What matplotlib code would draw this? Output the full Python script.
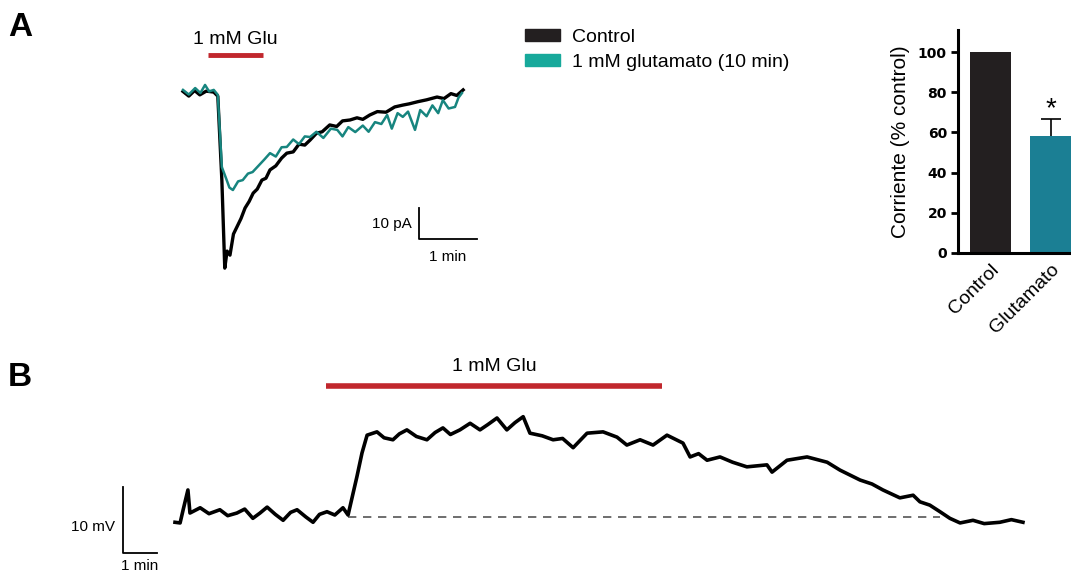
import numpy as np
import matplotlib
matplotlib.use("Agg")
import matplotlib.pyplot as plt
from matplotlib.patches import Patch

plt.rcParams["font.family"] = ["Liberation Sans", "DejaVu Sans"]

# ---- data ----
# panel A: whole-cell current, time in min, current in pA
a_ctrl_t = [0, 0.10, 0.20, 0.29, 0.40, 0.53, 0.60, 0.67, 0.72, 0.76, 0.81, 0.87, 0.93,
            1.00, 1.07, 1.14, 1.21, 1.28, 1.36, 1.43, 1.50, 1.60, 1.70, 1.79, 1.90, 2.00,
            2.10, 2.19, 2.30, 2.40, 2.53, 2.65, 2.75, 2.88, 3.00, 3.10, 3.22, 3.35, 3.50,
            3.65, 3.79, 3.90, 4.05, 4.20, 4.38, 4.50, 4.62, 4.72, 4.83]
a_ctrl_i = [0.5, -1.0, 0.8, -0.6, 0.6, 0.3, -1.0, -28.1, -56.5, -51.0, -52.3, -45.5, -43.2,
            -40.5, -37.1, -35.0, -32.3, -31.0, -28.1, -27.5, -24.8, -23.5, -21.0, -19.4, -19.0, -16.5,
            -16.8, -15.2, -13.0, -12.5, -10.3, -10.8, -9.0, -8.7, -8.0, -8.5, -7.1, -6.0, -6.2,
            -4.5, -3.9, -3.5, -2.8, -2.2, -1.3, -1.8, -0.2, -0.8, 1.0]
a_glu_t = [0, 0.10, 0.21, 0.30, 0.38, 0.45, 0.53, 0.60, 0.67, 0.74, 0.80, 0.86, 0.95,
           1.03, 1.12, 1.20, 1.28, 1.40, 1.50, 1.60, 1.70, 1.79, 1.90, 2.00, 2.10, 2.19,
           2.30, 2.42, 2.55, 2.66, 2.75, 2.85, 2.97, 3.10, 3.20, 3.31, 3.42, 3.52, 3.60,
           3.70, 3.79, 3.88, 4.00, 4.09, 4.20, 4.30, 4.40, 4.48, 4.58, 4.69, 4.75, 4.81]
a_glu_i = [1.0, -0.5, 1.6, 0.0, 2.6, 0.5, 1.0, -0.6, -23.9, -27.4, -30.5, -31.3, -28.5,
           -28.1, -26.0, -25.5, -23.9, -21.5, -19.4, -20.5, -17.5, -17.4, -15.0, -16.5, -14.0, -14.2,
           -12.5, -14.5, -11.5, -11.9, -14.0, -11.0, -12.6, -10.5, -12.5, -9.4, -10.0, -7.1, -11.5,
           -6.5, -7.7, -6.0, -11.9, -5.5, -7.5, -4.0, -6.5, -2.3, -5.0, -4.5, -1.5, 0.0]
a_glu_bar = [0.43, 1.38]   # min

# bar chart
bar_labels = ["Control", "Glutamato"]
bar_values = [100, 58]
bar_err = [0, 8.7]

# panel B: membrane potential, time in min, mV relative to baseline
b_t = [0, 0.15, 0.24, 0.38, 0.44, 0.74, 1.00, 1.32, 1.55, 1.82, 2.05, 2.29, 2.50, 2.71,
       2.95, 3.18, 3.40, 3.59, 3.85, 4.06, 4.25, 4.47, 4.70, 4.94, 5.09, 5.35, 5.50,
       5.65, 5.94, 6.15, 6.41, 6.60, 6.82, 7.10, 7.41, 7.65, 7.88, 8.10, 8.38, 8.68,
       8.97, 9.20, 9.47, 9.76, 10.00, 10.24, 10.44, 10.80, 11.12, 11.40, 11.71, 12.12,
       12.59, 13.00, 13.29, 13.68, 14.06, 14.47, 14.94, 15.15, 15.40, 15.65, 16.03,
       16.40, 16.82, 17.41, 17.56, 18.00, 18.59, 19.18, 19.56, 20.15, 20.50, 20.82,
       21.32, 21.71, 21.91, 22.20, 22.50, 22.79, 23.09, 23.47, 23.80, 24.26, 24.60, 24.94]
b_v = [-0.8, -0.9, 1.1, 4.1, 0.6, 1.4, 0.5, 1.1, 0.2, 0.6, 1.2, -0.2, 0.6, 1.5,
       0.4, -0.5, 0.7, 1.1, 0.0, -0.8, 0.4, 0.8, 0.3, 1.4, 0.3, 6.1, 9.7,
       12.4, 12.9, 12.0, 11.7, 12.6, 13.2, 12.2, 11.7, 12.8, 13.5, 12.5, 13.2, 14.2,
       13.2, 14.0, 15.0, 13.2, 14.3, 15.2, 12.7, 12.3, 11.7, 11.9, 10.5, 12.7,
       12.9, 12.1, 10.9, 11.7, 10.9, 12.4, 11.2, 9.1, 9.6, 8.6, 9.1,
       8.3, 7.6, 7.9, 6.8, 8.6, 9.1, 8.3, 7.1, 5.6, 5.0, 4.1,
       2.9, 3.3, 2.3, 1.8, 0.8, -0.2, -0.9, -0.5, -1.0, -0.8, -0.4, -0.8]
b_glu_bar = [4.44, 14.32]
b_baseline = [5.09, 22.5]

RED = "#c1272d"
TEAL = "#17857f"
TEAL_LEG = "#17a99b"
BAR_TEAL = "#1b7f94"
BLACK = "#231f20"

W, H = 1071, 572
fig = plt.figure(figsize=(W / 100, H / 100), dpi=100)


def px_axes(x0, y0, x1, y1):
    return fig.add_axes([x0 / W, 1 - y1 / H, (x1 - x0) / W, (y1 - y0) / H])


# ---- panel A traces ----
axA = px_axes(150, 15, 500, 285)
# pixel scale: 58 px per min, 3.1 px per pA, origin at (183, 93)
axA.set_xlim((150 - 183) / 58, (500 - 183) / 58)
axA.set_ylim(-(285 - 93) / 3.1, -(15 - 93) / 3.1)
axA.axis("off")
axA.plot(a_ctrl_t, a_ctrl_i, color="black", lw=2.4)
axA.plot(a_glu_t, a_glu_i, color=TEAL, lw=1.8)
axA.plot(a_glu_bar, [12.3, 12.3], color=RED, lw=3.5, solid_capstyle="butt")
axA.text(np.mean(a_glu_bar), 14.5, "1 mM Glu", ha="center", va="bottom", fontsize=14)
# scale bar 10 pA / 1 min
axA.plot([4.07, 4.07, 5.07], [-37.1, -47.1, -47.1], color="black", lw=1.3)
axA.text(3.95, -42.1, "10 pA", ha="right", va="center", fontsize=11)
axA.text(4.57, -50.5, "1 min", ha="center", va="top", fontsize=11)

fig.text(8 / W, 1 - 27 / H, "A", fontsize=24, fontweight="bold", va="center", ha="left")
fig.text(8 / W, 1 - 377 / H, "B", fontsize=24, fontweight="bold", va="center", ha="left")

fig.legend(handles=[Patch(color=BLACK, label="Control"),
                    Patch(color=TEAL_LEG, label="1 mM glutamato (10 min)")],
           loc="upper left", bbox_to_anchor=(525 / W, 1 - 29 / H), frameon=False,
           fontsize=14, handlelength=1.8, handleheight=0.55, handletextpad=0.6,
           labelspacing=0.42, borderpad=0, borderaxespad=0)

# ---- bar chart ----
axC = px_axes(958, 30, 1071, 253)
pos = np.arange(len(bar_values))
axC.bar(pos, bar_values, width=0.68, color=[BLACK, BAR_TEAL], zorder=2)
# upper error bar only
top = bar_values[1] + bar_err[1]
axC.vlines(pos[1], bar_values[1], top, color="black", lw=1.2, zorder=1)
axC.hlines(top, pos[1] - 0.17, pos[1] + 0.17, color="black", lw=1.2, zorder=1)
axC.text(pos[1], top - 1.5, "*", ha="center", va="bottom", fontsize=20)
axC.set_xlim(-0.537, 1.33)
axC.set_ylim(0, 111)
axC.spines[["top", "right"]].set_visible(False)
axC.spines[["left", "bottom"]].set_linewidth(2.2)
axC.set_yticks([0, 20, 40, 60, 80, 100])
axC.tick_params(axis="y", direction="out", length=5, width=2, labelsize=10, pad=3)
for lab in axC.get_yticklabels():
    lab.set_fontweight("bold")
    lab.set_family("DejaVu Sans")
axC.set_xticks(pos)
axC.set_xticklabels(bar_labels, rotation=45, ha="right", rotation_mode="anchor", fontsize=14)
axC.tick_params(axis="x", length=0, pad=6)
axC.set_ylabel("Corriente (% control)", fontsize=15, labelpad=6)

# ---- panel B ----
axB = px_axes(50, 350, 1065, 572)
# pixel scale: 34 px per min, 6.6 px per mV, origin at (175, 517)
axB.set_xlim((50 - 175) / 34, (1065 - 175) / 34)
axB.set_ylim(-(572 - 517) / 6.6, -(350 - 517) / 6.6)
axB.axis("off")
axB.plot(b_baseline, [0, 0], color="#555555", lw=1.2, dashes=(5, 4))
axB.plot(b_t, b_v, color="black", lw=2.6)
axB.plot(b_glu_bar, [19.8, 19.8], color=RED, lw=4, solid_capstyle="butt")
axB.text(np.mean(b_glu_bar), 21.5, "1 mM Glu", ha="center", va="bottom", fontsize=14)
axB.plot([-1.53, -1.53, -0.53], [4.5, -5.5, -5.5], color="black", lw=1.3)
axB.text(-1.77, -1.5, "10 mV", ha="right", va="center", fontsize=11)
axB.text(-1.03, -6.3, "1 min", ha="center", va="top", fontsize=11, clip_on=False)

fig.savefig("out.png", dpi=100)
